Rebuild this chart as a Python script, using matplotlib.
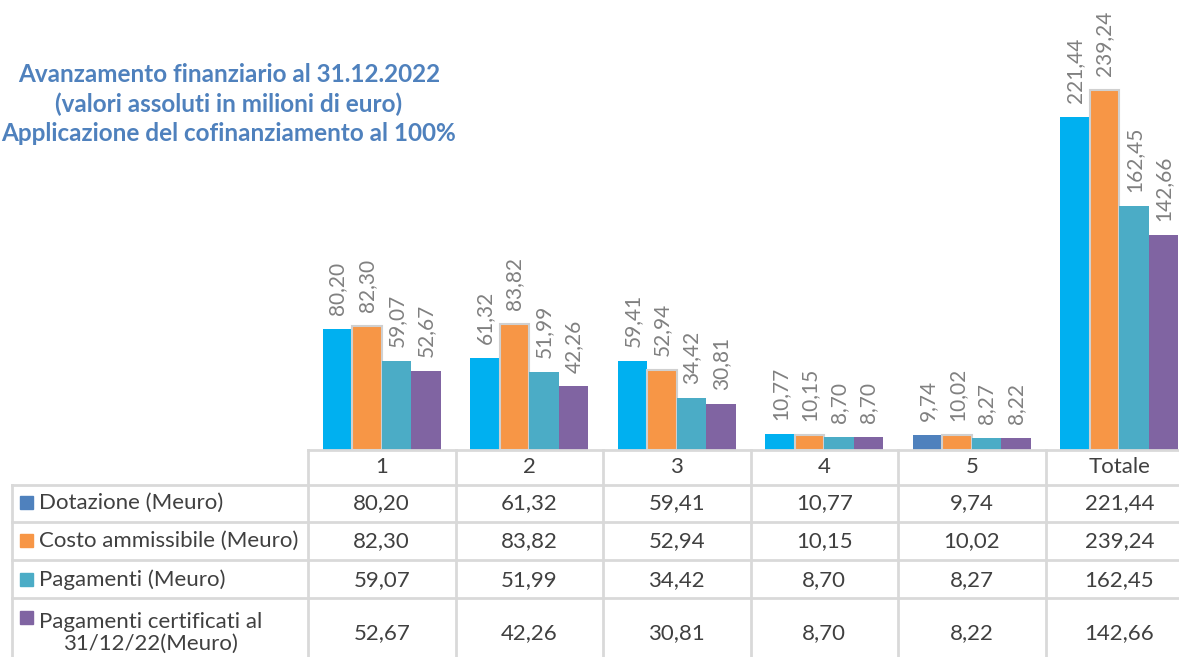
import matplotlib.pyplot as plt
import matplotlib.transforms as mtransforms
import numpy as np

plt.rcParams['font.family'] = ['Lato', 'DejaVu Sans']

categories = ["1", "2", "3", "4", "5", "Totale"]
series_names = [
    "Dotazione (Meuro)",
    "Costo ammissibile (Meuro)",
    "Pagamenti (Meuro)",
    "Pagamenti certificati al\n31/12/22(Meuro)",
]
dotazione = [80.20, 61.32, 59.41, 10.77, 9.74, 221.44]
costo = [82.30, 83.82, 52.94, 10.15, 10.02, 239.24]
pagamenti = [59.07, 51.99, 34.42, 8.70, 8.27, 162.45]
certificati = [52.67, 42.26, 30.81, 8.70, 8.22, 142.66]
series = [dotazione, costo, pagamenti, certificati]

legend_colors = ["#4F81BD", "#F79646", "#4BACC6", "#8064A2"]
bar_colors = [
    ["#00B0F0", "#00B0F0", "#00B0F0", "#00B0F0", "#4F81BD", "#00B0F0"],
    ["#F79646"] * 6,
    ["#4BACC6"] * 6,
    ["#8064A2"] * 6,
]
edge_colors = ["none", "#D0D0D0", "none", "none"]

W, H = 1179, 657
fig = plt.figure(figsize=(W / 100, H / 100), dpi=100)

# plot area in pixels: left 308, baseline 450, column width 147.5
left_px, base_px, col_w = 308, 450, 147.5
ax = fig.add_axes([left_px / W, 1 - base_px / H, col_w * 6 / W, base_px / H])
ax.set_xlim(-0.5, 5.5)
ax.set_ylim(0, 299)
ax.axis("off")

x = np.arange(len(categories))
bw = 0.2
for i, vals in enumerate(series):
    pos = x + (i - 1.5) * bw
    ax.bar(pos, vals, width=bw, color=bar_colors[i], edgecolor=edge_colors[i],
           linewidth=1.5)
    for p, v in zip(pos, vals):
        ax.annotate(f"{v:.2f}".replace(".", ","), (p, v), xytext=(0, 10),
                    textcoords="offset points", rotation=90, ha="center",
                    va="bottom", fontsize=15, color="#808080")

# title
fig.text(229 / W, 1 - 104 / H,
         "Avanzamento finanziario al 31.12.2022\n(valori assoluti in milioni di euro)\nApplicazione del cofinanziamento al 100%",
         ha="center", va="center", fontsize=17.5, fontweight="bold",
         color="#4F81BD", linespacing=1.3)

# data table below the plot
def fy(y):
    return 1 - y / H

tr = mtransforms.blended_transform_factory(ax.transData, fig.transFigure)
grid_c = "#D9D9D9"
text_c = "#404040"
row_lines = [450, 485, 522, 560, 598]
label_left = 12 / W

# horizontal lines
fig.add_artist(plt.Line2D([-0.5, 5.5], [fy(450)] * 2, transform=tr, color=grid_c, lw=2))
for y in row_lines[1:]:
    fig.add_artist(plt.Line2D([label_left, 1], [fy(y)] * 2, transform=fig.transFigure,
                              color=grid_c, lw=2))
# vertical lines
fig.add_artist(plt.Line2D([label_left] * 2, [fy(485), 0], transform=fig.transFigure,
                          color=grid_c, lw=2))
for b in np.arange(-0.5, 6.0, 1.0):
    fig.add_artist(plt.Line2D([b, b], [fy(450), 0], transform=tr, color=grid_c, lw=2))

# header
for xi, c in zip(x, categories):
    fig.text(xi, fy(467), c, transform=tr, ha="center", va="center",
             fontsize=16, color=text_c)

row_y = [503, 541, 580, 633]
for r, (name, vals) in enumerate(zip(series_names, series)):
    if r < 3:
        ty = fy(row_y[r])
        fig.text(39 / W, ty, name, ha="left", va="center", fontsize=16, color=text_c)
        ky = row_y[r]
    else:
        fig.text(39 / W, fy(633), name, ha="left", va="center", fontsize=16,
                 color=text_c, multialignment="center", linespacing=1.1)
        ky = 618
    fig.add_artist(plt.Rectangle((20 / W, fy(ky + 6)), 13 / W, 13 / H,
                                 transform=fig.transFigure, color=legend_colors[r]))
    for xi, v in zip(x, vals):
        fig.text(xi, fy(row_y[r]), f"{v:.2f}".replace(".", ","), transform=tr,
                 ha="center", va="center", fontsize=16, color=text_c)

fig.savefig("out.png", dpi=100)
